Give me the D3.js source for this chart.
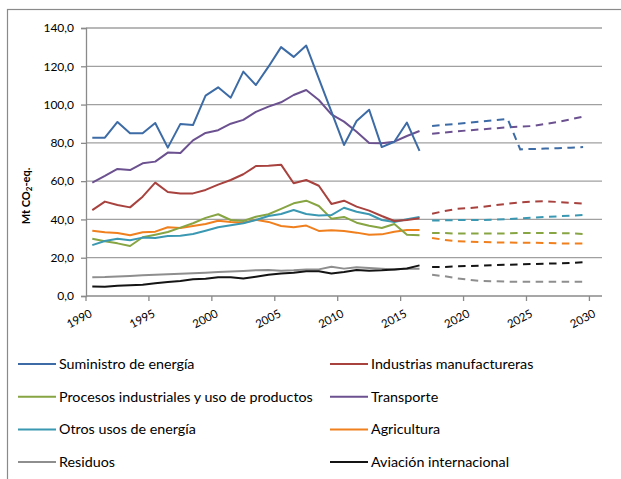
<!DOCTYPE html>
<html><head><meta charset="utf-8">
<script src="https://cdn.jsdelivr.net/npm/d3@7"></script>
<style>body{margin:0;background:#fff}svg{display:block}text{font-family:Lato,"Open Sans",sans-serif;fill:#000}</style>
</head><body><svg id="c" width="621" height="479"></svg>
<script>
const axisYears = [1990,1991,1992,1993,1994,1995,1996,1997,1998,1999,2000,2001,2002,2003,2004,2005,2006,2007,2008,2009,2010,2011,2012,2013,2014,2015,2016,2017,2018,2019,2020,2021,2022,2023,2024,2025,2026,2027,2028,2029,2030];
const histYears = [1990,1991,1992,1993,1994,1995,1996,1997,1998,1999,2000,2001,2002,2003,2004,2005,2006,2007,2008,2009,2010,2011,2012,2013,2014,2015,2016];
const projYears = [2017,2018,2019,2020,2021,2022,2023,2024,2025,2026,2027,2028,2029];
const xTickLabels = ["1990","1995","2000","2005","2010","2015","2020","2025","2030"];
const yTicks = [0,20,40,60,80,100,120,140];
const seriesNames = ["Suministro de energía","Industrias manufactureras","Procesos industriales y uso de productos","Transporte","Otros usos de energía","Agricultura","Residuos","Aviación internacional"];
const seriesColors = ["#3C6BA5","#A8423E","#87A543","#6C5190","#3B98B2","#F07F1E","#8E8E8E","#141414"];

const suministro  = [82.7,82.7,90.9,85.0,85.0,90.4,77.5,89.9,89.3,104.7,109.0,103.6,117.2,110.2,119.8,130.0,124.9,130.8,113.5,96.3,78.9,91.4,97.3,77.8,80.6,90.6,75.8];
const industrias  = [44.9,49.3,47.5,46.3,51.9,59.2,54.3,53.6,53.6,55.4,58.2,60.6,63.6,67.9,68.0,68.6,58.9,60.6,57.6,48.1,49.8,46.7,44.6,41.8,39.2,39.7,40.6];
const procesos    = [29.9,28.6,27.5,26.1,30.7,32.0,33.4,35.7,38.0,40.8,42.7,39.7,39.2,41.4,42.7,45.5,48.4,49.8,47.0,40.4,41.3,38.3,36.7,35.5,37.6,32.0,31.7];
const transporte  = [59.2,62.7,66.4,65.8,69.3,70.2,74.9,74.7,81.3,85.2,86.6,90.0,92.0,96.2,98.9,101.2,105.0,107.6,102.4,94.9,91.1,85.8,79.9,79.8,80.6,83.6,86.2];
const otros       = [26.6,28.7,29.9,29.1,30.5,30.3,31.3,31.5,32.4,34.1,35.9,36.9,38.0,39.7,41.8,42.8,44.9,42.8,42.0,42.3,46.1,44.0,42.7,39.7,38.7,40.1,41.3];
const agricultura = [34.1,33.3,32.9,31.7,33.3,33.6,35.9,35.5,36.6,37.6,39.3,38.7,38.3,39.8,38.7,36.6,35.9,36.8,34.0,34.3,34.0,33.1,32.0,32.2,33.6,34.5,34.5];
const residuos    = [9.8,9.9,10.2,10.5,10.8,11.1,11.4,11.6,11.9,12.2,12.5,12.8,13.1,13.5,13.6,13.2,13.4,13.9,13.9,15.3,14.3,15.0,14.6,14.3,13.9,14.3,14.3];
const aviacion    = [4.9,4.8,5.4,5.6,5.9,6.6,7.3,7.8,8.7,9.0,9.8,9.8,9.2,10.1,11.1,11.8,12.2,12.9,12.9,11.7,12.5,13.6,13.2,13.4,13.9,14.4,16.0];

const suministroP  = [88.8,89.4,90.0,90.6,91.2,91.8,92.5,76.6,76.8,77.0,77.2,77.5,77.8];
const industriasP  = [43.0,44.4,45.5,46.0,46.5,47.4,48.2,48.9,49.3,49.5,49.1,48.7,48.2];
const procesosP    = [32.9,32.9,32.6,32.6,32.6,32.6,32.7,32.9,32.9,32.9,32.9,32.7,32.4];
const transporteP  = [84.8,85.4,86.0,86.6,87.1,87.6,88.1,88.5,88.8,89.9,90.9,92.3,93.7];
const otrosP       = [39.4,39.5,39.7,39.7,39.7,39.9,40.2,40.6,40.9,41.3,41.6,42.0,42.3];
const agriculturaP = [30.3,29.3,28.6,28.4,28.2,28.0,28.0,27.8,27.8,27.7,27.5,27.4,27.4];
const residuosP    = [11.1,10.3,9.2,8.4,7.8,7.7,7.5,7.4,7.4,7.4,7.4,7.4,7.4];
const aviacionP    = [15.2,15.2,15.5,15.7,15.9,16.2,16.3,16.5,16.7,16.9,17.0,17.2,17.6];

const hist = [suministro,industrias,procesos,transporte,otros,agricultura,residuos,aviacion];
const proj = [suministroP,industriasP,procesosP,transporteP,otrosP,agriculturaP,residuosP,aviacionP];

const svg = d3.select("#c");
const L = 86, R = 602, T = 28, B = 296;
const x = d3.scaleBand().domain(axisYears).range([L, R]).paddingInner(0).paddingOuter(0);
const y = d3.scaleLinear().domain([0, 140]).range([B, T]);
const cx = yr => x(yr) + x.bandwidth() / 2;

// outer border
svg.append("rect").attr("x", 7.5).attr("y", 9.5).attr("width", 700).attr("height", 600)
  .attr("fill", "none").attr("stroke", "#8a8a8a").attr("stroke-width", 1.2);

// gridlines
svg.append("g").selectAll("line").data(yTicks.filter(d => d > 0)).join("line")
  .attr("x1", L).attr("x2", R).attr("y1", d => y(d)).attr("y2", d => y(d))
  .attr("stroke", "#a0a0a0").attr("stroke-width", 1.3);

// y axis
const yAxis = svg.append("g").attr("transform", `translate(${L},0)`)
  .call(d3.axisLeft(y).tickValues(yTicks).tickSize(5).tickPadding(7)
    .tickFormat(d => d3.format(".1f")(d).replace(".", ",")));
yAxis.select(".domain").attr("stroke", "#8a8a8a").attr("stroke-width", 1.3);
yAxis.selectAll(".tick line").attr("stroke", "#8a8a8a").attr("stroke-width", 1.3);
yAxis.selectAll("text").attr("font-size", 12).attr("font-family", "Lato").attr("fill", "#111");

// x axis
const tickYears = xTickLabels.map(Number);
const xAxisG = svg.append("g").attr("transform", `translate(0,${B})`);
xAxisG.append("line").attr("x1", L).attr("x2", R).attr("y1", 0).attr("y2", 0)
  .attr("stroke", "#8a8a8a").attr("stroke-width", 1.3);
xAxisG.selectAll("line.t").data(tickYears).join("line").attr("class", "t")
  .attr("x1", d => x(d)).attr("x2", d => x(d)).attr("y1", 0).attr("y2", 5)
  .attr("stroke", "#8a8a8a").attr("stroke-width", 1.3);
xAxisG.selectAll("text").data(xTickLabels).join("text")
  .attr("transform", d => `translate(${x(+d) + 7},${20}) rotate(-28)`)
  .attr("text-anchor", "end").attr("font-size", 11.5).attr("fill", "#111").text(d => d);

// y title
const yt = svg.append("text").attr("transform", "translate(30,196) rotate(-90)")
  .attr("text-anchor", "middle").attr("font-size", 11).attr("font-weight", "bold");
yt.append("tspan").text("Mt CO");
yt.append("tspan").attr("font-size", 8).attr("dy", 2).text("2");
yt.append("tspan").attr("dy", -2).text("-eq.");

// lines
const line = d3.line().x(d => cx(d[0])).y(d => y(d[1]));
const drawOrder = [6, 7, 5, 2, 4, 1, 3, 0];
drawOrder.forEach(i => {
  svg.append("path").datum(histYears.map((yr, k) => [yr, hist[i][k]]))
    .attr("d", line).attr("fill", "none").attr("stroke", seriesColors[i])
    .attr("stroke-width", 2).attr("stroke-linejoin", "round");
  svg.append("path").datum(projYears.map((yr, k) => [yr, proj[i][k]]))
    .attr("d", line).attr("fill", "none").attr("stroke", seriesColors[i])
    .attr("stroke-width", 2).attr("stroke-dasharray", "7.5,5.5");
});

// legend: font sized so the longest label spans the same width as in the reference
const probe = svg.append("text").attr("font-size", 10).text(seriesNames[2]);
const w10 = probe.node().getComputedTextLength();
probe.remove();
const legFont = 10 * 254 / w10;
const lg = svg.append("g");
seriesNames.forEach((name, i) => {
  const col = i % 2, row = Math.floor(i / 2);
  const lx = col === 0 ? 18 : 330, ly = 364 + row * 32.7;
  lg.append("line").attr("x1", lx).attr("x2", lx + 38).attr("y1", ly).attr("y2", ly)
    .attr("stroke", seriesColors[i]).attr("stroke-width", 2);
  lg.append("text").attr("x", lx + 41).attr("y", ly).attr("dy", "0.35em")
    .attr("font-size", legFont).attr("fill", "#111").text(name);
});
</script></body></html>
